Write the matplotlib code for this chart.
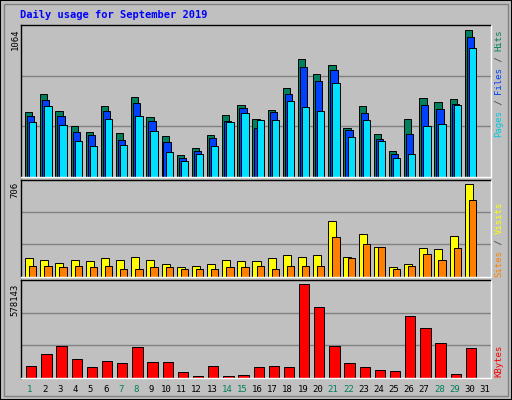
import matplotlib
matplotlib.use("Agg")
import matplotlib.pyplot as plt
from matplotlib.patches import Rectangle
import numpy as np

days = list(range(1, 32))
weekend = [1, 7, 8, 14, 15, 21, 22, 28, 29]
hits = [472,602,479,371,327,515,320,580,436,298,161,212,306,450,522,421,486,645,854,746,811,356,515,313,190,421,573,544,566,1064,0]
files = [443,558,443,327,306,479,270,537,407,255,140,190,284,407,501,356,472,602,797,696,775,342,465,277,168,313,522,493,530,1013,0]
pages = [400,515,378,262,226,421,233,443,335,183,118,168,226,400,465,414,414,551,508,479,681,291,414,262,140,168,371,385,522,934,0]
sites = [138,130,107,130,115,138,123,146,130,92,69,84,92,123,115,115,138,161,146,161,422,153,322,223,69,92,215,207,307,706,0]
visits = [84,84,69,77,69,77,61,54,69,69,61,61,61,69,69,77,54,84,77,77,299,138,246,223,61,77,169,130,215,583,0]
kbytes = [71700,147700,198300,116000,65400,103400,90700,192000,97000,97000,33800,14800,71700,14800,21100,65400,71700,65400,578143,432500,198300,90700,65400,46400,40100,381900,305900,217300,27400,185700,0]

W, H = 512, 400
fig = plt.figure(figsize=(W/100, H/100), dpi=100)
fig.patch.set_facecolor('#C0C0C0')
mono = 'DejaVu Sans Mono'

def px(x, y):
    return x / W, 1 - y / H

# outer border
fig.patches.append(Rectangle((0, 0), 1, 1, transform=fig.transFigure, fill=False, ec='black', lw=1.5))
fig.patches.append(Rectangle(px(4, 396), (W-8)/W, (H-8)/H, transform=fig.transFigure, fill=False, ec='#808080', lw=1))

def mkax(top, bottom, ymax):
    l, r = 20.5, 490.5
    ax = fig.add_axes([l/W, 1-bottom/H, (r-l)/W, (bottom-top)/H])
    ax.set_facecolor('#C0C0C0')
    ax.set_xlim(0, 31)
    ax.set_ylim(0, ymax)
    ax.set_xticks([]); ax.set_yticks([])
    for g in (ymax/3, 2*ymax/3):
        ax.axhline(g, color='#808080', lw=1, zorder=0)
    ax.spines['left'].set_color('black'); ax.spines['top'].set_color('black')
    ax.spines['right'].set_color('white'); ax.spines['bottom'].set_color('white')
    for s in ax.spines.values():
        s.set_linewidth(1)
    return ax

x = np.arange(31)
ax1 = mkax(25, 177, 1064*152/147.4)
ax1.bar(x+0.30, hits, width=0.48, align='edge', color='#00805C', ec='black', lw=0.7)
ax1.bar(x+0.43, files, width=0.48, align='edge', color='#0040FF', ec='black', lw=0.7)
ax1.bar(x+0.57, pages, width=0.48, align='edge', color='#00E0FF', ec='black', lw=0.7)

ax2 = mkax(180, 276.5, 706*96/91.7)
ax2.bar(x+0.30, sites, width=0.53, align='edge', color='#FFFF00', ec='black', lw=0.7)
ax2.bar(x+0.57, visits, width=0.48, align='edge', color='#FF8000', ec='black', lw=0.7)

ax3 = mkax(280, 378, 578143*97/93.3)
ax3.bar(x+0.37, kbytes, width=0.68, align='edge', color='#FF0000', ec='black', lw=0.7)

def t(xp, yp, s, **kw):
    fig.text(xp/W, 1-yp/H, s, family=mono, **kw)

t(20, 15, 'Daily usage for September 2019', color='#0000FF', fontsize=7.5, weight='bold', va='center')
t(15, 29, '1064', rotation=90, ha='center', va='top', fontsize=6.5)
t(15, 182, '706', rotation=90, ha='center', va='top', fontsize=6.5)
t(15, 284, '578143', rotation=90, ha='center', va='top', fontsize=6.5)

def vlabel(xp, ybottom, parts):
    y = ybottom
    for s, c in parts:
        t(xp, y, s, rotation=90, ha='center', va='bottom', fontsize=6.5, color=c)
        y -= len(s) * 5.35

vlabel(499, 137, [('Pages', '#00C8E0'), (' / ', '#404040'), ('Files', '#0040FF'), (' / ', '#404040'), ('Hits', '#00805C')])
vlabel(499, 277, [('Sites', '#FF8000'), (' / ', '#404040'), ('Visits', '#FFFF00')])
vlabel(499, 377, [('KBytes', '#FF0000')])

slot = 470/31
for d in days:
    xc = 20.5 + (d-1)*slot + slot*0.62
    t(xc, 389, str(d), ha='center', va='center', fontsize=6.5,
      color='#00805C' if d in weekend else 'black')

fig.savefig('out.png', dpi=100, facecolor=fig.get_facecolor())
